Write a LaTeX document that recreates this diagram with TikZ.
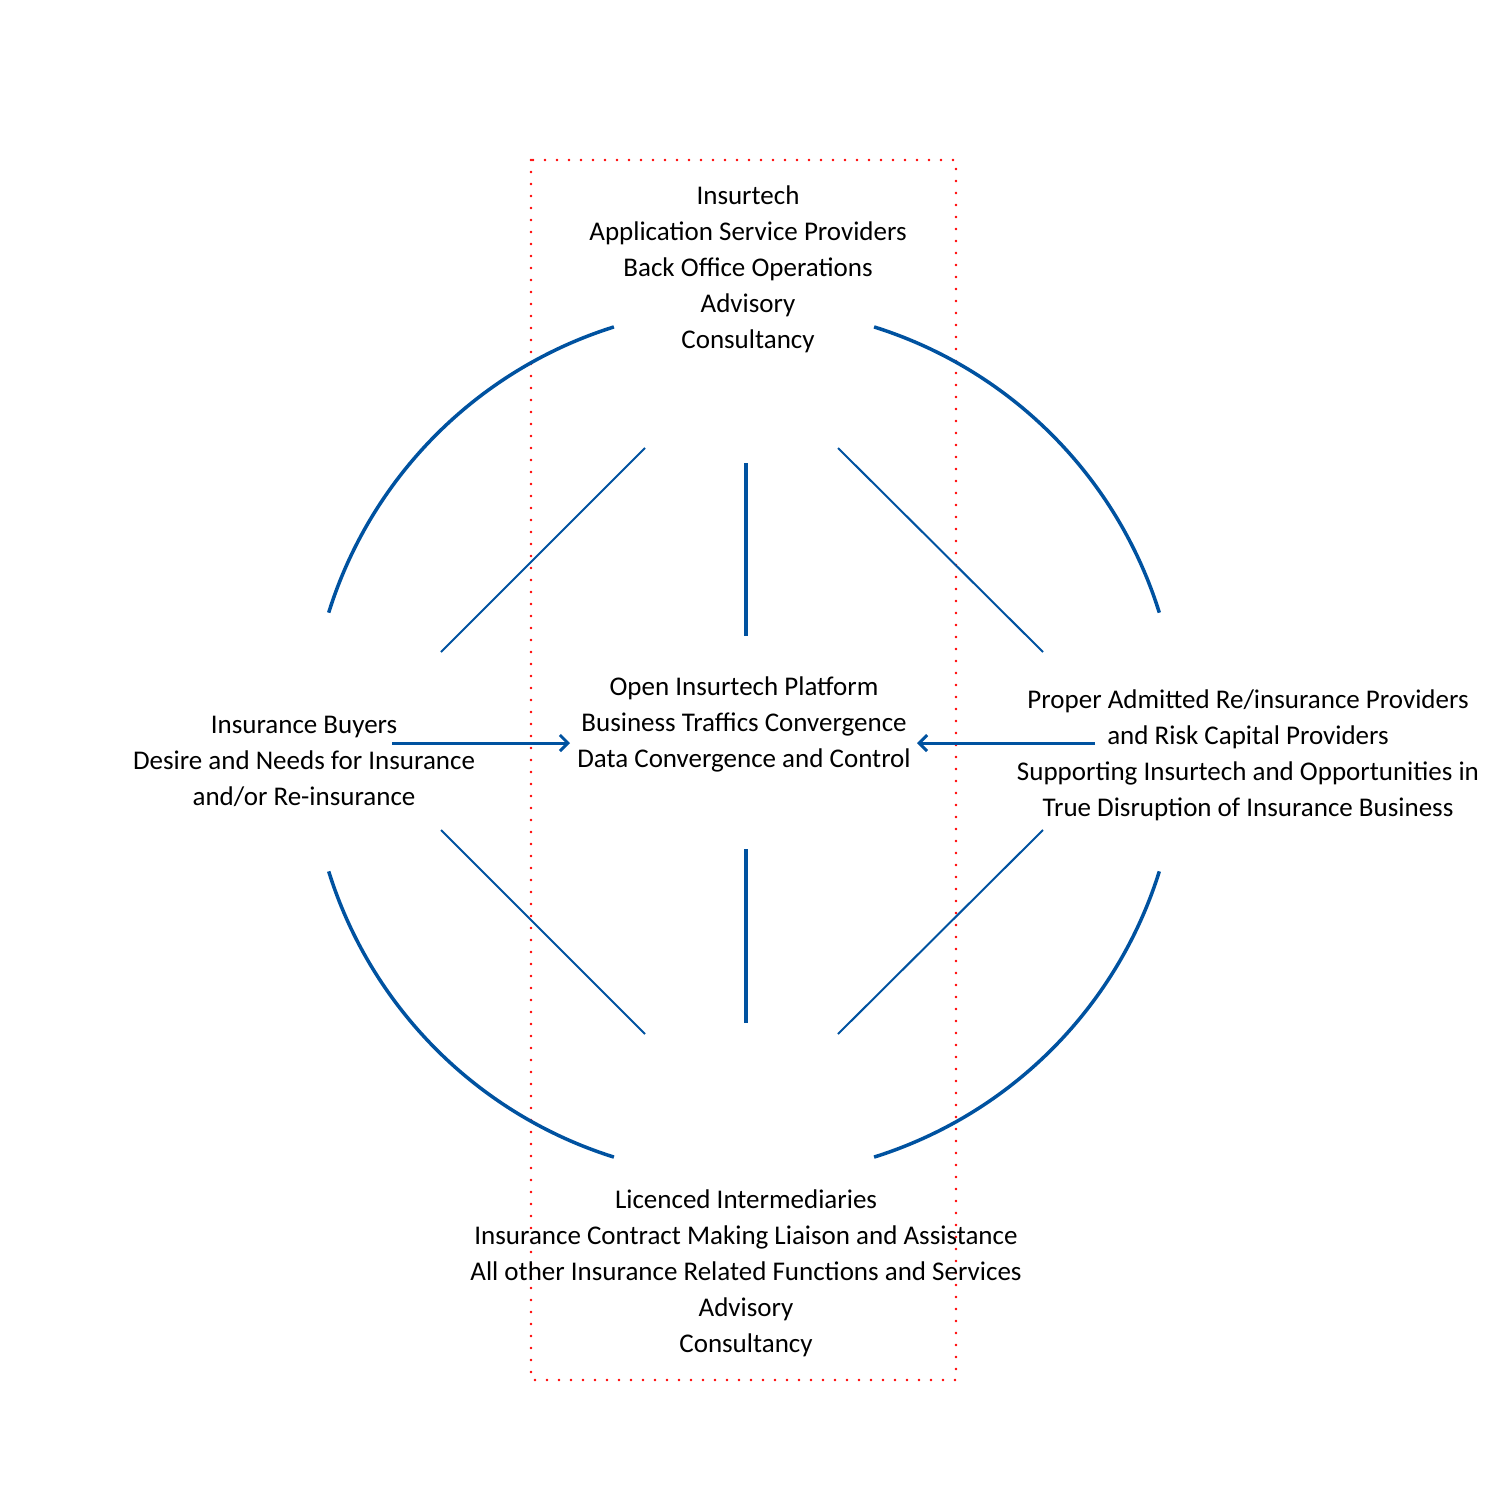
\documentclass[tikz,border=0pt]{standalone}
\usepackage{fontspec}
\setmainfont{Carlito}
\usetikzlibrary{arrows.meta}
\definecolor{hubblue}{RGB}{0,82,160}

\begin{document}
\begin{tikzpicture}[x=0.5pt,y=0.5pt,
  lbl/.style={align=center,font=\fontsize{13.5}{18}\selectfont,inner sep=0pt},
  rim/.style={hubblue,line width=1.75pt},
  spoke/.style={hubblue,line width=1pt},
  axle/.style={hubblue,line width=1.75pt},
  feed/.style={hubblue,line width=1.5pt,-{Straight Barb[length=4pt,width=8pt]}},
  core/.style={red,line width=1.4pt,dash pattern=on 0pt off 6pt,line cap=round}]
  \useasboundingbox (0,0) rectangle (1488,-1489);
  \coordinate (hub) at (744,-742);
  \draw[core] (531,-160) rectangle (956,-1380);
  \node[lbl] (insurtech) at (748,-269) {Insurtech\\Application Service Providers\\Back Office Operations\\Advisory\\Consultancy};
  \node[lbl] (platform) at (744,-724) {Open Insurtech Platform\\Business Traffics Convergence\\Data Convergence and Control};
  \node[lbl] (buyers) at (304,-761) {Insurance Buyers\\Desire and Needs for Insurance\\and/or Re-insurance};
  \node[lbl] (providers) at (1248,-755) {Proper Admitted Re/insurance Providers\\and Risk Capital Providers\\Supporting Insurtech and Opportunities in\\True Disruption of Insurance Business};
  \node[lbl] (intermediaries) at (746,-1273) {Licenced Intermediaries\\Insurance Contract Making Liaison and Assistance\\All other Insurance Related Functions and Services\\Advisory\\Consultancy};
  % outer ring
  \foreach \a in {17.3,107.4,197.3,287.4}
    \draw[rim] (hub) ++(\a:435) arc[start angle=\a,delta angle=55.3,radius=217.5pt];
  % spokes
  \coordinate (ul-a) at (441,-652); \coordinate (ul-b) at (645,-448);
  \coordinate (ur-a) at (838,-448); \coordinate (ur-b) at (1043,-652);
  \coordinate (ll-a) at (441,-830); \coordinate (ll-b) at (645,-1034);
  \coordinate (lr-a) at (838,-1034); \coordinate (lr-b) at (1043,-830);
  \coordinate (up-a) at (746,-463); \coordinate (up-b) at (746,-636);
  \coordinate (dn-a) at (746,-849); \coordinate (dn-b) at (746,-1023);
  \draw[spoke] (ul-a) -- (ul-b);
  \draw[spoke] (ur-a) -- (ur-b);
  \draw[spoke] (ll-a) -- (ll-b);
  \draw[spoke] (lr-a) -- (lr-b);
  \draw[axle] (up-a) -- (up-b);
  \draw[axle] (dn-a) -- (dn-b);
  % flows into the platform
  \coordinate (buyers-out) at (392,-743); \coordinate (platform-w) at (570,-743);
  \coordinate (providers-out) at (1095,-743); \coordinate (platform-e) at (917,-743);
  \draw[feed] (buyers-out) -- (platform-w);
  \draw[feed] (providers-out) -- (platform-e);
\end{tikzpicture}
\end{document}
